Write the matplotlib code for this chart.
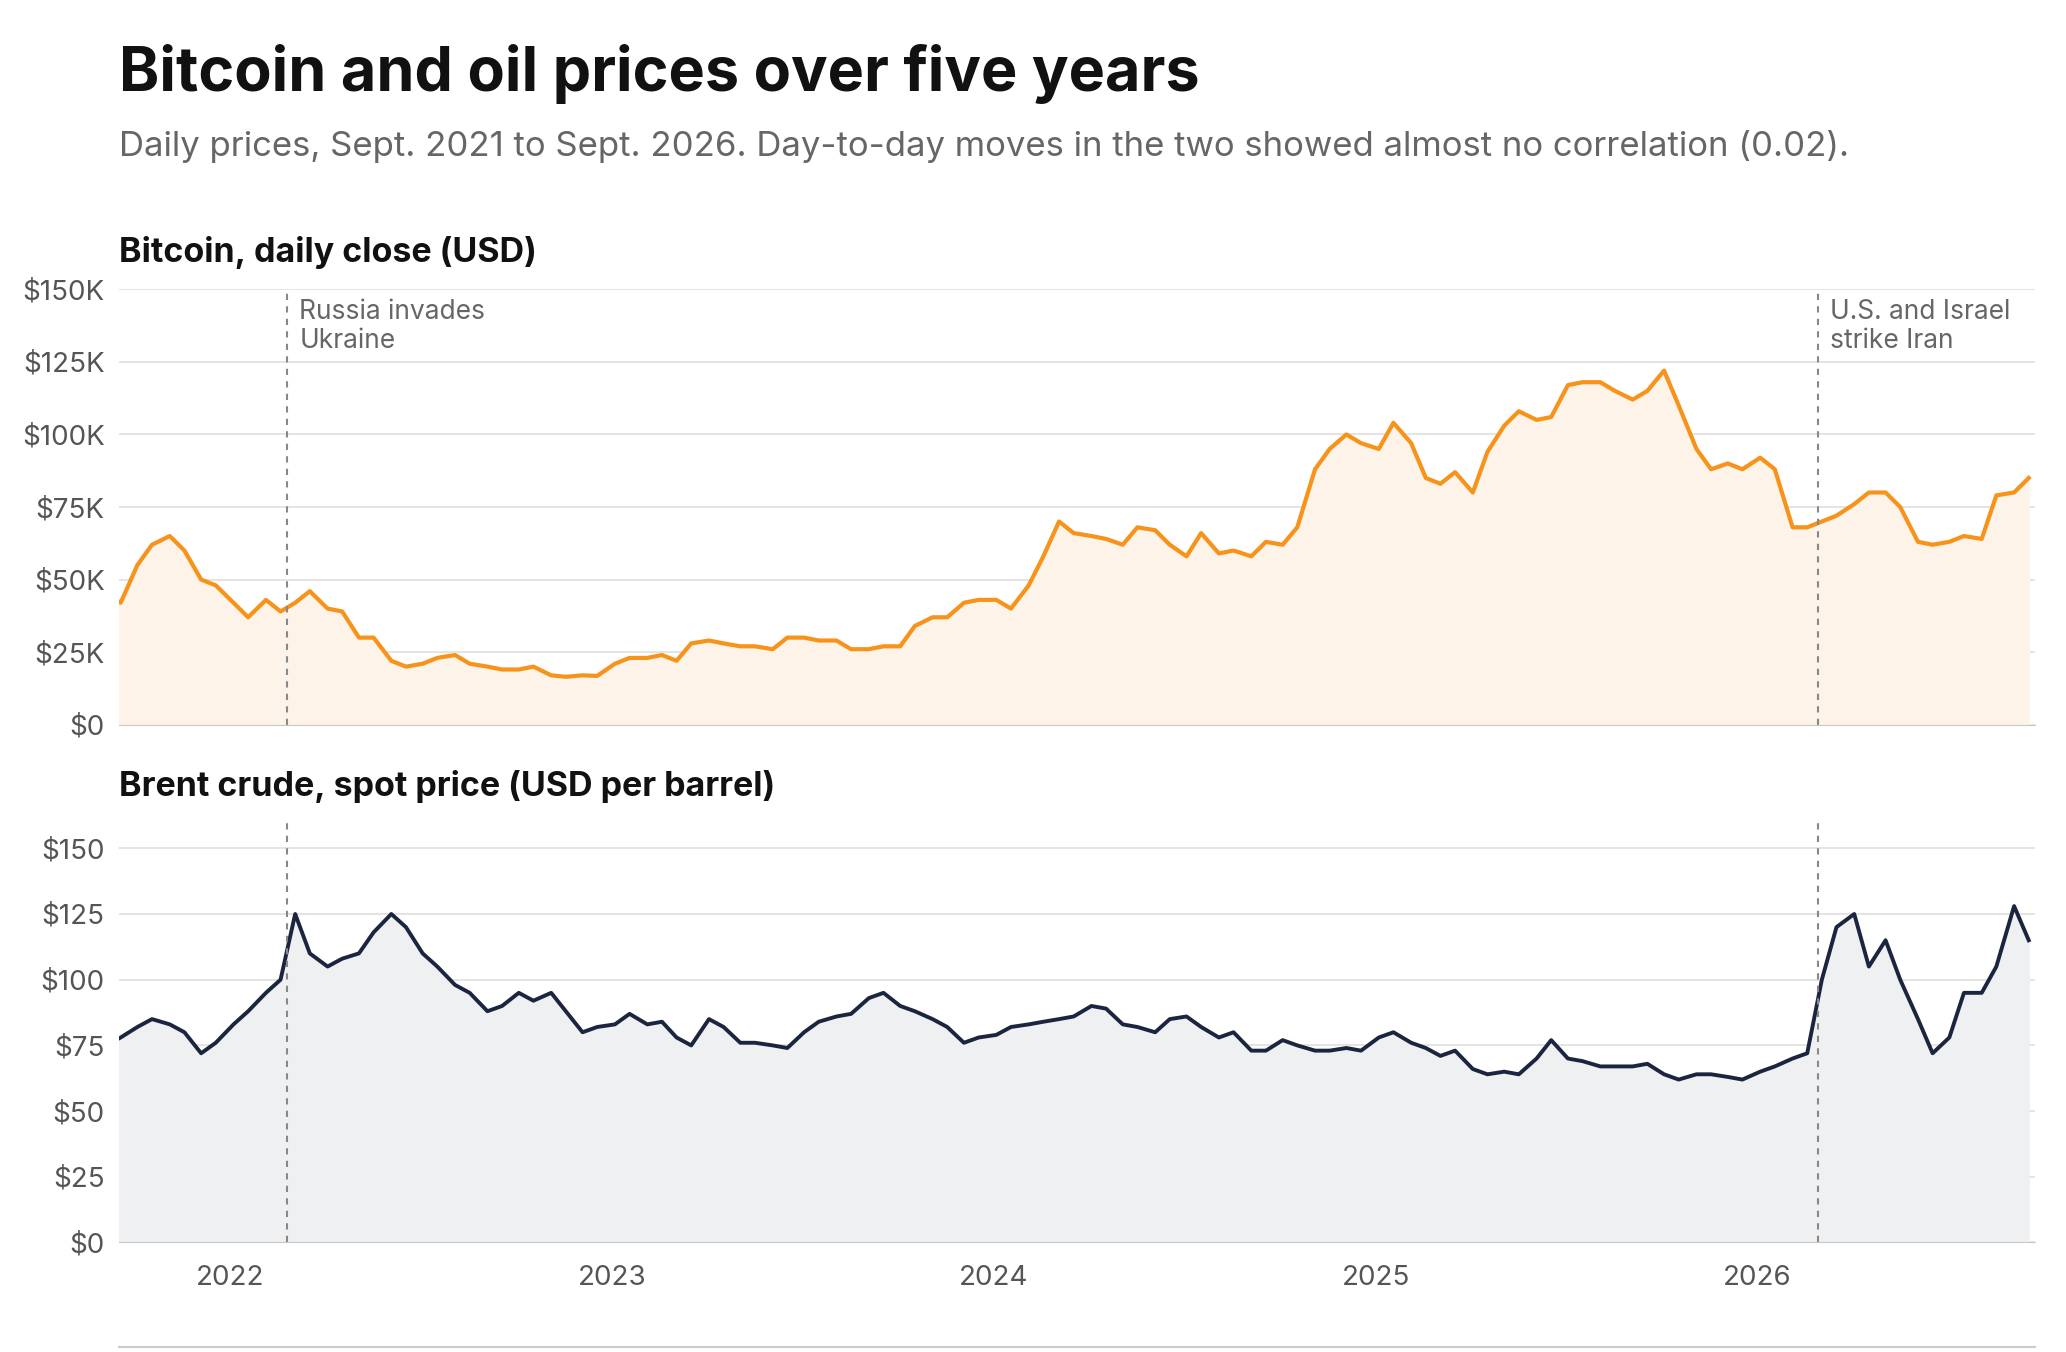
import matplotlib
matplotlib.use("Agg")
import matplotlib.pyplot as plt
import matplotlib.dates as mdates
import numpy as np
import pandas as pd

plt.rcParams['font.family'] = ['Inter', 'DejaVu Sans']

months = pd.date_range("2021-09-01", "2026-09-01", freq="MS")
dates = []
for m in months:
    dates.append(m + pd.Timedelta(days=3))
    dates.append(m + pd.Timedelta(days=17))
dates = pd.to_datetime(dates)

btc = [45,42, 55,62, 65,60, 50,48, 42,37, 43,39, 42,46, 40,39, 30,30, 22,20,
       21,23, 24,21, 20,19, 19,20, 17,16.5, 17,16.8, 21,23, 23,24, 22,28, 29,28,
       27,27, 26,30, 30,29, 29,26, 26,27, 27,34, 37,37, 42,43, 43,40, 48,58,
       70,66, 65,64, 62,68, 67,62, 58,66, 59,60, 58,63, 62,68, 88,95, 100,97,
       95,104, 97,85, 83,87, 80,94, 103,108, 105,106, 117,118, 118,115, 112,115, 122,110,
       95,88, 90,88, 92,88, 68,68, 70,72, 76,80, 80,75, 63,62, 63,65, 64,79, 80,85]
oil = [75,78, 82,85, 83,80, 72,76, 83,88, 95,100, 125,110, 105,108, 110,118, 125,120,
       110,105, 98,95, 88,90, 95,92, 95,88, 80,82, 83,87, 83,84, 78,75, 85,82,
       76,76, 75,74, 80,84, 86,87, 93,95, 90,88, 85,82, 76,78, 79,82, 83,84,
       85,86, 90,89, 83,82, 80,85, 86,82, 78,80, 73,73, 77,75, 73,73, 74,73,
       78,80, 76,74, 71,73, 66,64, 65,64, 70,77, 70,69, 67,67, 67,68, 64,62,
       64,64, 63,62, 65,67, 70,72, 100,120, 125,105, 115,100, 85,72, 78,95, 95,105, 128,115]
btc_k = np.array(btc[:len(dates)]) * 1000
oil = np.array(oil[:len(dates)])

events = [("2022-02-24", "Russia invades\nUkraine"), ("2026-02-28", "U.S. and Israel\nstrike Iran")]
btc_ticks = [0, 25000, 50000, 75000, 100000, 125000, 150000]
btc_labels = ["$0", "$25K", "$50K", "$75K", "$100K", "$125K", "$150K"]
oil_ticks = [0, 25, 50, 75, 100, 125, 150]
oil_labels = ["$0", "$25", "$50", "$75", "$100", "$125", "$150"]

fig = plt.figure(figsize=(20.66, 13.52), dpi=100)
L, R = 0.0574, 0.985
ax1 = fig.add_axes([L, 0.464, R - L, 0.786 - 0.464])
ax2 = fig.add_axes([L, 0.081, R - L, 0.392 - 0.081])
xmin, xmax = pd.Timestamp("2021-09-16"), pd.Timestamp("2026-09-24")

def style(ax, ticks, labels, ymax):
    ax.set_xlim(xmin, xmax)
    ax.set_ylim(0, ymax)
    ax.set_yticks(ticks)
    ax.set_yticklabels(labels)
    for s in ["top", "right", "left"]:
        ax.spines[s].set_visible(False)
    ax.spines["bottom"].set_color("#c8c8c8")
    ax.grid(axis="y", color="#e2e2e2", lw=1.3)
    ax.set_axisbelow(True)
    ax.tick_params(axis="y", length=0, labelsize=20, labelcolor="#555555", pad=10)
    ax.tick_params(axis="x", length=0, labelsize=20, labelcolor="#555555", pad=16)

style(ax1, btc_ticks, btc_labels, 150000)
style(ax2, oil_ticks, oil_labels, 160)
ax1.fill_between(dates, btc_k, color="#fdf3e8")
ax1.plot(dates, btc_k, color="#f7931a", lw=3)
ax2.fill_between(dates, oil, color="#eff0f2")
ax2.plot(dates, oil, color="#1c2540", lw=2.8)
ax1.set_xticks([])
ax2.xaxis.set_major_locator(mdates.YearLocator())
ax2.xaxis.set_major_formatter(mdates.DateFormatter("%Y"))

for d, txt in events:
    d = pd.Timestamp(d)
    for ax in (ax1, ax2):
        ax.axvline(d, color="#888888", lw=1.5, ls=(0, (3, 3)))
    ax1.text(d + pd.Timedelta(days=12), 146500, txt, fontsize=19, color="#666666",
             va="top", ha="left", linespacing=1.15)

fig.text(L, 0.945, "Bitcoin and oil prices over five years", fontsize=44, weight="bold",
         color="#111111", va="center")
fig.text(L, 0.892, "Daily prices, Sept. 2021 to Sept. 2026. Day-to-day moves in the two showed almost no correlation (0.02).",
         fontsize=25, color="#666666", va="center")
fig.text(L, 0.813, "Bitcoin, daily close (USD)", fontsize=24.5, weight="bold", color="#111111", va="center")
fig.text(L, 0.418, "Brent crude, spot price (USD per barrel)", fontsize=24.5, weight="bold", color="#111111", va="center")
fig.add_artist(plt.Line2D([L, R], [0.004, 0.004], color="#cccccc", lw=1.5, transform=fig.transFigure))

fig.savefig("out.png", dpi=100, facecolor="white")
